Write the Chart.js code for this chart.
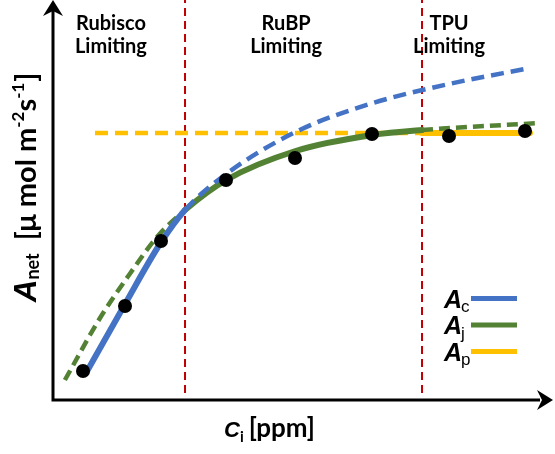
<!DOCTYPE html>
<html>
<head>
<meta charset="utf-8">
<script src="https://cdn.jsdelivr.net/npm/chart.js@4.4.1/dist/chart.umd.min.js"></script>
<style>
  html, body { margin: 0; padding: 0; background: #fff; }
  canvas { display: block; }
</style>
</head>
<body>
<canvas id="chart" width="555" height="454"></canvas>
<script>
// Ci in ppm, A in umol m-2 s-1 (schematic scale)
const acX = [66.7, 145.5, 216, 266.7, 350, 490, 640, 800, 964];
const acY = [2.7, 9.6, 15.6, 19.0, 22.6, 26.8, 29.6, 31.6, 33.2];
const ajX = [24, 95, 155, 210, 266.7, 350, 490, 645, 745.5, 984];
const ajY = [2.0, 8.2, 12.6, 16.3, 19.0, 22.0, 24.9, 26.5, 27.0, 27.7];
const apX = [84.8, 745.5, 963.6];
const apY = [26.7, 26.7, 26.7];
const obsX = [60.6, 145.5, 218.2, 349.5, 488.9, 644.4, 800, 953.5];
const obsY = [2.9, 9.4, 15.9, 22.0, 24.2, 26.6, 26.4, 26.9];
const limitX = [266.7, 745.5];
const regionNames = [['Rubisco', 'Limiting'], ['RuBP', 'Limiting'], ['TPU', 'Limiting']];
const regionX = [117, 471, 800];
const legendSubs = ['c', 'j', 'p'];

const BLUE = '#4472C4';
const GREEN = '#548235';
const YELLOW = '#FFC000';
const RED = '#C00000';

function toPoints(xs, ys) {
  return xs.map((x, i) => ({ x, y: ys[i] }));
}

const eps = 0.1;
const inRubisco = (ctx) => ctx.p1.parsed.x <= limitX[0] + eps;
const inRubp = (ctx) => ctx.p0.parsed.x >= limitX[0] - eps && ctx.p1.parsed.x <= limitX[1] + eps;
const inTpu = (ctx) => ctx.p0.parsed.x >= limitX[1] - eps;

function curve(label, xs, ys, color, solidWhen, dash) {
  return {
    label,
    data: toPoints(xs, ys),
    borderColor: color,
    borderWidth: 4.5,
    pointRadius: 0,
    cubicInterpolationMode: 'monotone',
    clip: false,
    segment: {
      borderDash: (ctx) => (solidWhen(ctx) ? [] : dash),
      borderWidth: (ctx) => (solidWhen(ctx) ? 6 : 4.5),
      borderCapStyle: (ctx) => (solidWhen(ctx) ? 'round' : 'butt')
    }
  };
}

function limitLine(x) {
  return {
    label: 'limit',
    data: [{ x, y: 0.7 }, { x, y: 40 }],
    borderColor: RED,
    borderWidth: 2,
    borderDash: [8, 5],
    pointRadius: 0,
    clip: false
  };
}

function drawRuns(ctx, runs) {
  let x = 0;
  runs.forEach((r) => {
    ctx.font = r.font;
    ctx.fillText(r.t, x, r.dy || 0);
    x += ctx.measureText(r.t).width + (r.after || 0);
  });
}

function arrowHead(ctx, tipX, tipY, angle) {
  ctx.save();
  ctx.translate(tipX, tipY);
  ctx.rotate(angle);
  ctx.beginPath();
  ctx.moveTo(0, 0);
  ctx.lineTo(-16, -10);
  ctx.lineTo(-11, 0);
  ctx.lineTo(-16, 10);
  ctx.closePath();
  ctx.fill();
  ctx.restore();
}

const decorations = {
  id: 'decorations',
  afterDatasetsDraw(chart) {
    const { ctx, chartArea: a, scales } = chart;
    const xs = scales.x;
    ctx.save();
    ctx.fillStyle = '#000';
    ctx.strokeStyle = '#000';

    // axes with arrows
    ctx.lineWidth = 3;
    ctx.beginPath();
    ctx.moveTo(a.left, a.top + 10);
    ctx.lineTo(a.left, a.bottom);
    ctx.lineTo(a.right - 8, a.bottom);
    ctx.stroke();
    arrowHead(ctx, a.left, a.top, -Math.PI / 2);
    arrowHead(ctx, a.right + 5, a.bottom, 0);

    // region labels
    ctx.textAlign = 'center';
    ctx.textBaseline = 'alphabetic';
    ctx.font = 'bold 20px Lato';
    regionNames.forEach((lines, i) => {
      const px = xs.getPixelForValue(regionX[i]);
      ctx.fillText(lines[0], px, 30);
      ctx.fillText(lines[1], px, 53);
    });

    // legend
    ctx.textAlign = 'left';
    const legendSets = chart.data.datasets.filter((d) => d.legendIndex !== undefined);
    legendSets.forEach((d) => {
      const cy = 298.5 + d.legendIndex * 26.5;
      ctx.font = 'italic bold 25px "Liberation Sans"';
      ctx.fillText('A', 444, cy + 9);
      ctx.font = '17px "Liberation Sans"';
      ctx.fillText(legendSubs[d.legendIndex], 461, cy + 13.5);
      ctx.strokeStyle = d.borderColor;
      ctx.lineWidth = 5;
      ctx.beginPath();
      ctx.moveTo(471, cy);
      ctx.lineTo(517, cy);
      ctx.stroke();
    });

    // x axis title
    ctx.save();
    ctx.translate(224, 437);
    drawRuns(ctx, [
      { t: 'C', font: 'italic bold 22px "Liberation Sans"', after: 0 },
      { t: 'i', font: 'bold 15px Lato', dy: 5, after: 5 },
      { t: '[ppm]', font: 'bold 26px Lato' }
    ]);
    ctx.restore();

    // y axis title
    ctx.save();
    ctx.translate(36, 302);
    ctx.rotate(-Math.PI / 2);
    drawRuns(ctx, [
      { t: 'A', font: 'italic bold 31px "Liberation Sans"' },
      { t: 'net', font: 'bold 18px Lato', dy: 3, after: 13 },
      { t: '[\u03bc mol m', font: 'bold 29px Lato' },
      { t: '-2', font: 'bold 17px Lato', dy: -12 },
      { t: 's', font: 'bold 29px Lato' },
      { t: '-1', font: 'bold 17px Lato', dy: -12, after: 1 },
      { t: ']', font: 'bold 29px Lato' }
    ]);
    ctx.restore();

    ctx.restore();
  }
};

const acSet = curve('Ac', acX, acY, BLUE, inRubisco, [13, 7]);
acSet.legendIndex = 0;
const ajSet = curve('Aj', ajX, ajY, GREEN, inRubp, [11, 6]);
ajSet.legendIndex = 1;
const apSet = curve('Ap', apX, apY, YELLOW, inTpu, [13, 7]);
apSet.legendIndex = 2;

new Chart(document.getElementById('chart'), {
  type: 'line',
  data: {
    datasets: [
      {
        label: 'measured',
        data: toPoints(obsX, obsY),
        showLine: false,
        pointRadius: 7,
        pointBackgroundColor: '#000',
        pointBorderWidth: 0,
        clip: false
      },
      acSet,
      ajSet,
      apSet,
      limitLine(limitX[0]),
      limitLine(limitX[1])
    ]
  },
  options: {
    responsive: false,
    animation: false,
    devicePixelRatio: 1,
    events: [],
    layout: { autoPadding: false, padding: { left: 53, right: 7, top: 0, bottom: 54 } },
    plugins: { legend: { display: false }, tooltip: { enabled: false } },
    scales: {
      x: { type: 'linear', min: 0, max: 1000, display: false },
      y: { type: 'linear', min: 0, max: 40, display: false }
    }
  },
  plugins: [decorations]
});
</script>
</body>
</html>
